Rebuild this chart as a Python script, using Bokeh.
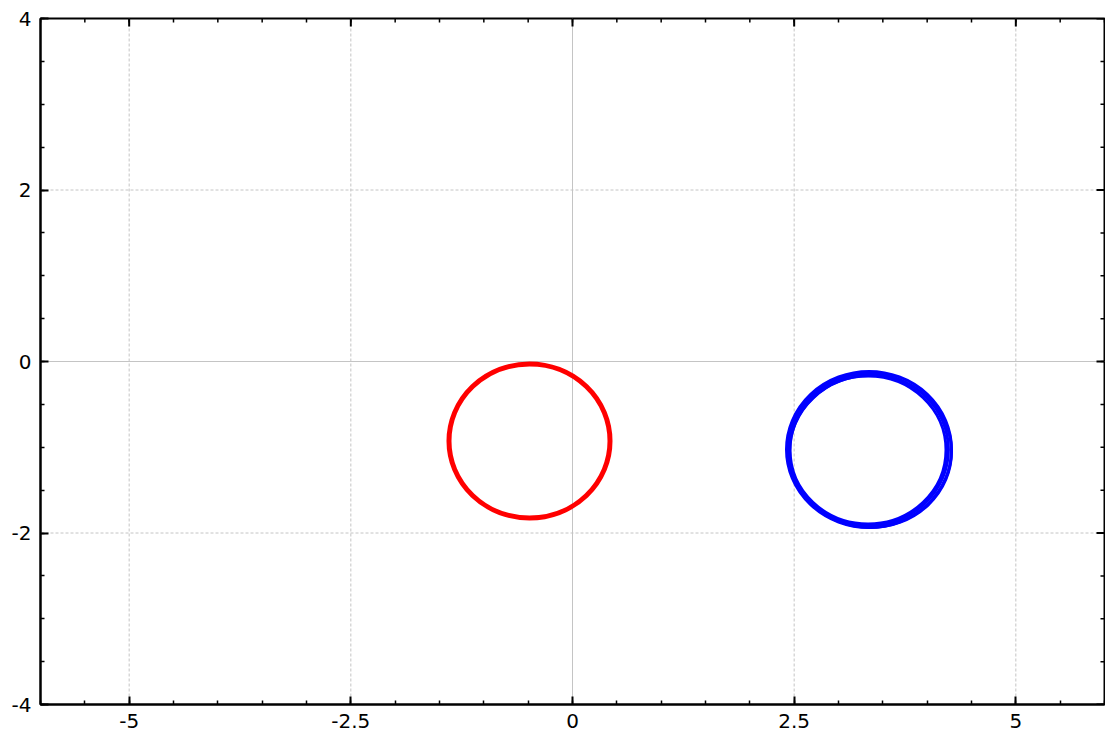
import math
from bokeh.plotting import figure
from bokeh.models import LinearAxis, Range1d, FixedTicker, Span, ColumnDataSource
from bokeh.embed import file_html
from bokeh.resources import INLINE

# ---- data ----
x_ticks = [-5, -2.5, 0, 2.5, 5]
x_minor = [-6 + 0.5 * i for i in range(25)]
y_ticks = [-4, -2, 0, 2, 4]
y_minor = [-4 + 0.5 * i for i in range(17)]

red_cx = [-0.485]
red_cy = [-0.927]
red_w = [1.816]
red_h = [1.796]

blue_cx = [3.333, 3.338, 3.344, 3.361]
blue_cy = [-1.032, -1.026, -1.026, -1.050]
blue_w = [1.759, 1.804, 1.861, 1.827]
blue_h = [1.726, 1.773, 1.819, 1.773]

X0, X1, Y0, Y1 = -6, 6, -4, 4
FONT = "DejaVu Sans"

p = figure(width=1105, height=737, output_backend="svg", toolbar_location=None,
           x_range=Range1d(X0, X1), y_range=Range1d(Y0, Y1),
           x_axis_location=None, y_axis_location=None,
           min_border_left=40, min_border_top=18, min_border_right=1, min_border_bottom=33)
p.outline_line_color = "black"
p.outline_line_width = 2
p.background_fill_color = "white"
p.border_fill_color = "white"


def mk_axis():
    ax = LinearAxis()
    ax.axis_line_color = "black"
    ax.axis_line_width = 2
    ax.major_tick_in = 8
    ax.major_tick_out = 0
    ax.minor_tick_in = 4
    ax.minor_tick_out = 0
    ax.major_tick_line_width = 2
    ax.minor_tick_line_width = 1.5
    ax.major_tick_line_color = "black"
    ax.minor_tick_line_color = "black"
    ax.major_label_text_font = FONT
    ax.major_label_text_font_size = "20px"
    ax.major_label_text_color = "black"
    return ax

xt = FixedTicker(ticks=x_ticks, minor_ticks=x_minor)
yt = FixedTicker(ticks=y_ticks, minor_ticks=y_minor)

bx = mk_axis(); bx.ticker = xt; bx.major_label_standoff = 9
bx.major_label_overrides = {v: ("%g" % v) for v in x_ticks}
ly = mk_axis(); ly.ticker = yt; ly.major_label_standoff = 9
ly.major_label_overrides = {v: ("%g" % v) for v in y_ticks}
p.add_layout(bx, "below")
p.add_layout(ly, "left")

# mirrored inward ticks on top and right edges
p.ray(x=x_ticks, y=[Y1] * len(x_ticks), length=8, length_units="screen",
      angle=-math.pi / 2, line_color="black", line_width=2)
p.ray(x=x_minor, y=[Y1] * len(x_minor), length=4, length_units="screen",
      angle=-math.pi / 2, line_color="black", line_width=1.5)
p.ray(x=[X1] * len(y_ticks), y=y_ticks, length=8, length_units="screen",
      angle=math.pi, line_color="black", line_width=2)
p.ray(x=[X1] * len(y_minor), y=y_minor, length=4, length_units="screen",
      angle=math.pi, line_color="black", line_width=1.5)

p.xgrid.visible = False
p.ygrid.visible = False
for v in x_ticks:
    p.add_layout(Span(location=v, dimension="height", line_color="#c4c4c4", line_width=1,
                      line_dash="solid" if v == 0 else "3 2", level="underlay"))
for v in y_ticks:
    if v in (Y0, Y1):
        continue
    p.add_layout(Span(location=v, dimension="width", line_color="#c4c4c4", line_width=1,
                      line_dash="solid" if v == 0 else "3 2", level="underlay"))

red = ColumnDataSource(dict(x=red_cx, y=red_cy, w=red_w, h=red_h))
blue = ColumnDataSource(dict(x=blue_cx, y=blue_cy, w=blue_w, h=blue_h))
p.ellipse(x="x", y="y", width="w", height="h", source=red, fill_color=None,
          line_color="#ff0000", line_width=5)
p.ellipse(x="x", y="y", width="w", height="h", source=blue, fill_color=None,
          line_color="#0000ff", line_width=3)

open("out.html", "w").write(file_html(p, INLINE))
